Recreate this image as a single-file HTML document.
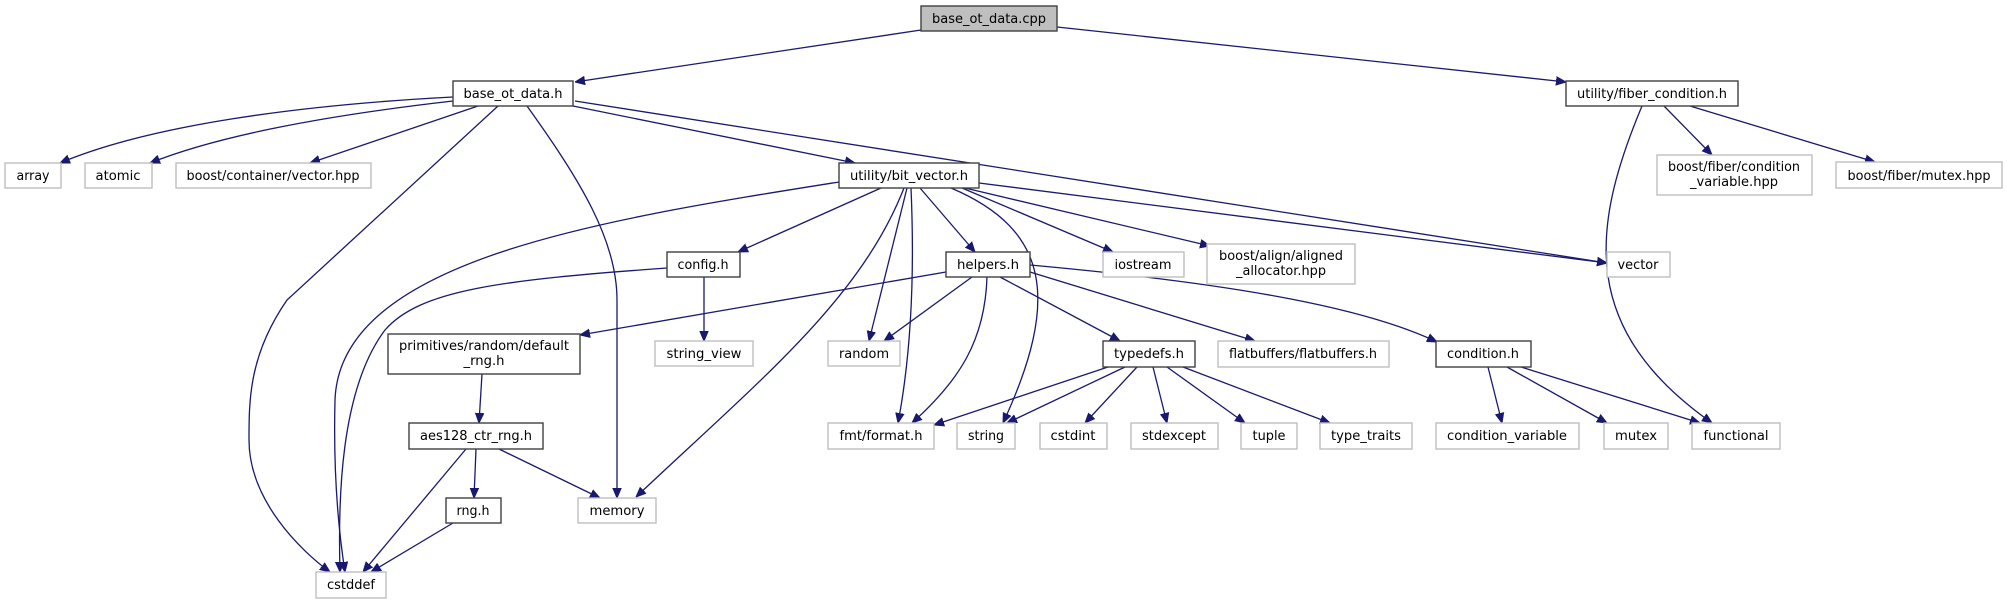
<!DOCTYPE html>
<html><head><meta charset="utf-8"><style>
html,body{margin:0;padding:0;background:#fff;}
svg{display:block}
text{font-family:"DejaVu Sans","Liberation Sans",sans-serif;font-size:13px;fill:#000}
.e{fill:none;stroke:#191970;stroke-width:1.3}
.n{fill:#fff;stroke:#404040;stroke-width:1.4}
.g{fill:#fff;stroke:#bfbfbf;stroke-width:1.4}
</style></head><body>
<svg width="2007" height="604" viewBox="0 0 2007 604" xmlns="http://www.w3.org/2000/svg">
<defs><marker id="a" viewBox="0 0 10 10" refX="10" refY="5" markerWidth="10" markerHeight="10" markerUnits="userSpaceOnUse" orient="auto"><path d="M0,0.8 L10,5 L0,9.2 z" fill="#191970" stroke="#191970"/></marker></defs>
<g marker-end="url(#a)">
<path class="e" d="M921,30 L575,82"/>
<path class="e" d="M1057,27 L1566,82"/>
<path class="e" d="M453,97 C300,105 150,125 60,163"/>
<path class="e" d="M453,101 C330,115 220,135 150,163"/>
<path class="e" d="M478,106 L310,163"/>
<path class="e" d="M498,106 L287,300 C249,355 249,400 249,440 C249,500 300,550 330,572"/>
<path class="e" d="M527,106 C580,180 617,240 617,300 L617,498"/>
<path class="e" d="M573,106 L855,163"/>
<path class="e" d="M575,101 L1607,263"/>
<path class="e" d="M839,182 C600,220 340,260 335,400 C333,480 340,540 345,572"/>
<path class="e" d="M881,188 L738,252"/>
<path class="e" d="M904,188 C860,300 760,380 636,497"/>
<path class="e" d="M907,188 L869,341"/>
<path class="e" d="M911,188 C915,280 910,360 898,423"/>
<path class="e" d="M920,188 L975,252"/>
<path class="e" d="M951,188 C1050,230 1060,300 1003,423"/>
<path class="e" d="M962,188 L1113,252"/>
<path class="e" d="M965,188 L1210,246"/>
<path class="e" d="M979,183 L1607,263"/>
<path class="e" d="M667,268 C500,280 420,290 385,330 C340,390 338,500 340,572"/>
<path class="e" d="M704,277 L704,341"/>
<path class="e" d="M946,272 L580,335"/>
<path class="e" d="M972,277 L884,341"/>
<path class="e" d="M987,277 C985,340 960,380 912,423"/>
<path class="e" d="M1000,277 L1120,341"/>
<path class="e" d="M1030,272 L1255,341"/>
<path class="e" d="M1030,265 C1250,285 1370,310 1437,342"/>
<path class="e" d="M1108,367 L934,425"/>
<path class="e" d="M1125,367 L1007,423"/>
<path class="e" d="M1137,367 L1085,423"/>
<path class="e" d="M1153,367 L1167,423"/>
<path class="e" d="M1167,367 L1245,423"/>
<path class="e" d="M1183,367 L1330,423"/>
<path class="e" d="M1488,367 L1502,423"/>
<path class="e" d="M1507,367 L1607,423"/>
<path class="e" d="M1521,367 L1700,423"/>
<path class="e" d="M1642,106 C1590,230 1580,330 1712,423"/>
<path class="e" d="M1664,106 L1712,155"/>
<path class="e" d="M1690,106 L1875,162"/>
<path class="e" d="M482,374 L479,423"/>
<path class="e" d="M476,449 L474,498"/>
<path class="e" d="M466,449 L363,572"/>
<path class="e" d="M499,449 L600,498"/>
<path class="e" d="M453,523 L371,572"/>
</g>
<!-- nodes -->
<rect x="921" y="6" width="136" height="25" fill="#bfbfbf" stroke="#404040" stroke-width="1.4"/>
<text x="989" y="23" text-anchor="middle" textLength="114" lengthAdjust="spacingAndGlyphs">base_ot_data.cpp</text>
<rect class="n" x="453" y="81" width="120" height="25"/><text x="513" y="98" text-anchor="middle" textLength="99" lengthAdjust="spacingAndGlyphs">base_ot_data.h</text>
<rect class="n" x="1566" y="81" width="172" height="25"/><text x="1652" y="98" text-anchor="middle" textLength="150" lengthAdjust="spacingAndGlyphs">utility/fiber_condition.h</text>
<rect class="g" x="5" y="163" width="56" height="25"/><text x="33" y="180" text-anchor="middle" textLength="33" lengthAdjust="spacingAndGlyphs">array</text>
<rect class="g" x="85" y="163" width="67" height="25"/><text x="118" y="180" text-anchor="middle" textLength="45" lengthAdjust="spacingAndGlyphs">atomic</text>
<rect class="g" x="176" y="163" width="195" height="25"/><text x="273" y="180" text-anchor="middle" textLength="173" lengthAdjust="spacingAndGlyphs">boost/container/vector.hpp</text>
<rect class="n" x="839" y="163" width="140" height="25"/><text x="909" y="180" text-anchor="middle" textLength="118" lengthAdjust="spacingAndGlyphs">utility/bit_vector.h</text>
<rect class="g" x="1657" y="155" width="155" height="40"/><text x="1734" y="171" text-anchor="middle" textLength="132" lengthAdjust="spacingAndGlyphs">boost/fiber/condition</text><text x="1734" y="186" text-anchor="middle" textLength="88" lengthAdjust="spacingAndGlyphs">_variable.hpp</text>
<rect class="g" x="1836" y="162" width="166" height="26"/><text x="1919" y="180" text-anchor="middle" textLength="143" lengthAdjust="spacingAndGlyphs">boost/fiber/mutex.hpp</text>
<rect class="n" x="667" y="252" width="73" height="25"/><text x="703" y="269" text-anchor="middle" textLength="51" lengthAdjust="spacingAndGlyphs">config.h</text>
<rect class="n" x="946" y="252" width="84" height="25"/><text x="988" y="269" text-anchor="middle" textLength="62" lengthAdjust="spacingAndGlyphs">helpers.h</text>
<rect class="g" x="1103" y="252" width="81" height="25"/><text x="1143" y="269" text-anchor="middle" textLength="57" lengthAdjust="spacingAndGlyphs">iostream</text>
<rect class="g" x="1207" y="244" width="148" height="40"/><text x="1281" y="260" text-anchor="middle" textLength="124" lengthAdjust="spacingAndGlyphs">boost/align/aligned</text><text x="1281" y="275" text-anchor="middle" textLength="90" lengthAdjust="spacingAndGlyphs">_allocator.hpp</text>
<rect class="g" x="1607" y="252" width="63" height="25"/><text x="1638" y="269" text-anchor="middle" textLength="41" lengthAdjust="spacingAndGlyphs">vector</text>
<rect class="n" x="388" y="334" width="192" height="40"/><text x="484" y="350" text-anchor="middle" textLength="170" lengthAdjust="spacingAndGlyphs">primitives/random/default</text><text x="484" y="365" text-anchor="middle" textLength="41" lengthAdjust="spacingAndGlyphs">_rng.h</text>
<rect class="g" x="655" y="341" width="98" height="25"/><text x="704" y="358" text-anchor="middle" textLength="75" lengthAdjust="spacingAndGlyphs">string_view</text>
<rect class="g" x="828" y="341" width="72" height="25"/><text x="864" y="358" text-anchor="middle" textLength="50" lengthAdjust="spacingAndGlyphs">random</text>
<rect class="n" x="1103" y="341" width="92" height="26"/><text x="1149" y="358" text-anchor="middle" textLength="70" lengthAdjust="spacingAndGlyphs">typedefs.h</text>
<rect class="g" x="1218" y="341" width="171" height="26"/><text x="1303" y="358" text-anchor="middle" textLength="148" lengthAdjust="spacingAndGlyphs">flatbuffers/flatbuffers.h</text>
<rect class="n" x="1436" y="341" width="95" height="26"/><text x="1483" y="358" text-anchor="middle" textLength="72" lengthAdjust="spacingAndGlyphs">condition.h</text>
<rect class="n" x="409" y="423" width="134" height="26"/><text x="476" y="440" text-anchor="middle" textLength="112" lengthAdjust="spacingAndGlyphs">aes128_ctr_rng.h</text>
<rect class="g" x="828" y="423" width="106" height="26"/><text x="881" y="440" text-anchor="middle" textLength="83" lengthAdjust="spacingAndGlyphs">fmt/format.h</text>
<rect class="g" x="957" y="423" width="58" height="26"/><text x="986" y="440" text-anchor="middle" textLength="36" lengthAdjust="spacingAndGlyphs">string</text>
<rect class="g" x="1040" y="423" width="67" height="26"/><text x="1073" y="440" text-anchor="middle" textLength="45" lengthAdjust="spacingAndGlyphs">cstdint</text>
<rect class="g" x="1131" y="423" width="87" height="26"/><text x="1174" y="440" text-anchor="middle" textLength="64" lengthAdjust="spacingAndGlyphs">stdexcept</text>
<rect class="g" x="1241" y="423" width="56" height="26"/><text x="1269" y="440" text-anchor="middle" textLength="33" lengthAdjust="spacingAndGlyphs">tuple</text>
<rect class="g" x="1320" y="423" width="92" height="26"/><text x="1366" y="440" text-anchor="middle" textLength="70" lengthAdjust="spacingAndGlyphs">type_traits</text>
<rect class="g" x="1436" y="423" width="143" height="26"/><text x="1507" y="440" text-anchor="middle" textLength="120" lengthAdjust="spacingAndGlyphs">condition_variable</text>
<rect class="g" x="1604" y="423" width="64" height="26"/><text x="1636" y="440" text-anchor="middle" textLength="42" lengthAdjust="spacingAndGlyphs">mutex</text>
<rect class="g" x="1692" y="423" width="88" height="26"/><text x="1736" y="440" text-anchor="middle" textLength="65" lengthAdjust="spacingAndGlyphs">functional</text>
<rect class="n" x="446" y="498" width="55" height="25"/><text x="473" y="515" text-anchor="middle" textLength="33" lengthAdjust="spacingAndGlyphs">rng.h</text>
<rect class="g" x="578" y="498" width="78" height="25"/><text x="617" y="515" text-anchor="middle" textLength="55" lengthAdjust="spacingAndGlyphs">memory</text>
<rect class="g" x="316" y="572" width="70" height="26"/><text x="351" y="589" text-anchor="middle" textLength="48" lengthAdjust="spacingAndGlyphs">cstddef</text>
</svg>
</body></html>
